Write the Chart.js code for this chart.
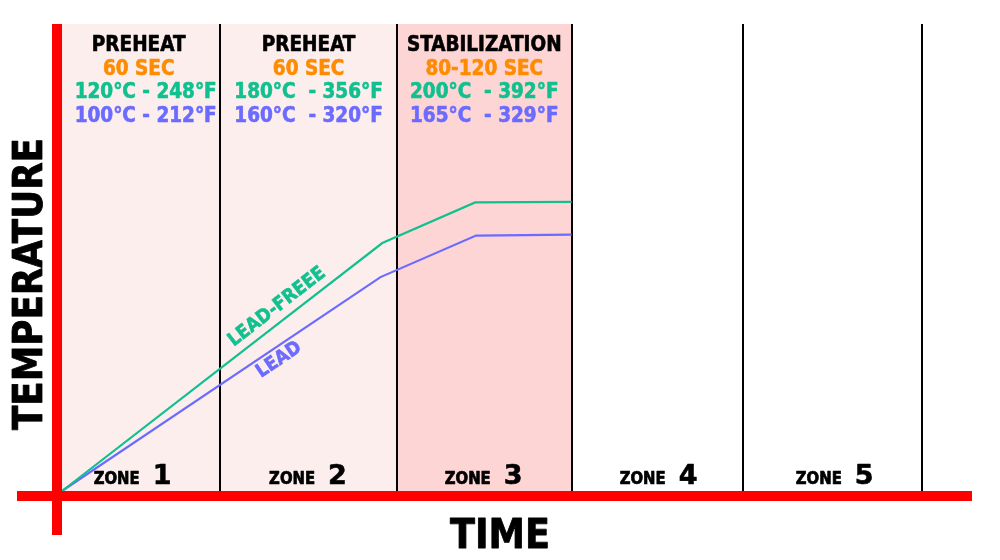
<!DOCTYPE html>
<html>
<head>
<meta charset="utf-8">
<script src="https://cdn.jsdelivr.net/npm/chart.js@4/dist/chart.umd.min.js"></script>
<style>
html,body{margin:0;padding:0;background:#fff;}
#wrap{width:1000px;height:560px;}
</style>
</head>
<body>
<div id="wrap"><canvas id="c" width="1000" height="560"></canvas></div>
<script>
// ---- data ----
const zoneBreaks = [0, 17.4, 36.8, 56.0, 74.8, 94.5];
const zoneNumbers = ['1', '2', '3', '4', '5'];
const zoneTitles = ['PREHEAT', 'PREHEAT', 'STABILIZATION'];
const zoneDurations = ['60 SEC', '60 SEC', '80-120 SEC'];
const leadFreeTemps = ['120°C - 248°F', '180°C  - 356°F', '200°C  - 392°F'];
const leadTemps = ['100°C - 212°F', '160°C  - 320°F', '165°C  - 329°F'];
const leadFreeX = [0, 35.2, 45.4, 56.0];
const leadFreeY = [0, 53.1, 61.8, 61.9];
const leadX = [0, 35.0, 45.5, 56.0];
const leadY = [0, 45.8, 54.7, 54.9];
const seriesNames = ['LEAD-FREEE', 'LEAD'];
const axisTitles = ['TIME', 'TEMPERATURE'];

// ---- styles ----
const GREEN = '#12c08f', PURPLE = '#6b6bff', ORANGE = '#ff8c00', RED = '#ff0000';
const zoneFills = ['#fdeeee', '#fdeeee', '#fed5d5', '#ffffff', '#ffffff'];
const COND = '"DejaVu Sans Condensed", "DejaVu Sans", sans-serif';
const SANS = '"DejaVu Sans", Verdana, sans-serif';

function fitText(ctx, text, x, y, font, color, width, align, heavy) {
  ctx.save();
  ctx.font = font;
  ctx.fillStyle = color;
  ctx.strokeStyle = color;
  ctx.textAlign = align || 'center';
  ctx.textBaseline = 'alphabetic';
  const w = ctx.measureText(text).width;
  ctx.translate(x, y);
  if (width) ctx.scale(width / w, 1);
  ctx.fillText(text, 0, 0);
  if (heavy) { ctx.lineWidth = heavy; ctx.lineJoin = 'round'; ctx.strokeText(text, 0, 0); }
  ctx.restore();
}

const pts = (xs, ys) => xs.map((x, i) => ({x, y: ys[i]}));

const decor = {
  id: 'decor',
  beforeDatasetsDraw(chart) {
    const {ctx, chartArea: a, scales: {x}} = chart;
    ctx.save();
    for (let i = 0; i < zoneFills.length; i++) {
      const x0 = x.getPixelForValue(zoneBreaks[i]);
      const x1 = x.getPixelForValue(zoneBreaks[i + 1]);
      ctx.fillStyle = zoneFills[i];
      ctx.fillRect(x0, a.top, x1 - x0, a.bottom - a.top);
    }
    ctx.strokeStyle = '#000';
    ctx.lineWidth = 2;
    for (let i = 1; i < zoneBreaks.length; i++) {
      const px = Math.round(x.getPixelForValue(zoneBreaks[i]));
      ctx.beginPath();
      ctx.moveTo(px, a.top);
      ctx.lineTo(px, a.bottom);
      ctx.stroke();
    }
    // header texts
    for (let i = 0; i < zoneTitles.length; i++) {
      let cx = (x.getPixelForValue(zoneBreaks[i]) + x.getPixelForValue(zoneBreaks[i + 1])) / 2;
      if (i === 0) cx -= 2.5;
      const off = i === 0 ? 7 : 0;
      fitText(ctx, zoneTitles[i], cx, a.top + 26.5, 'bold 20.5px ' + COND, '#000', null, 'center', 0.6);
      fitText(ctx, zoneDurations[i], cx, a.top + 50.5, 'bold 20.5px ' + COND, ORANGE, null, 'center', 0.6);
      fitText(ctx, leadFreeTemps[i], cx + off, a.top + 74, 'bold 20.5px ' + COND, GREEN, null, 'center', 0.6);
      fitText(ctx, leadTemps[i], cx + off, a.top + 98, 'bold 20.5px ' + COND, PURPLE, null, 'center', 0.6);
    }
    // zone labels
    for (let i = 0; i < zoneNumbers.length; i++) {
      const cx = (x.getPixelForValue(zoneBreaks[i]) + x.getPixelForValue(zoneBreaks[i + 1])) / 2 + [-8, 0, 0, 2, 3][i];
      const sx = cx - 39.5;
      fitText(ctx, 'ZONE', sx, a.bottom - 7.5, 'bold 18px ' + COND, '#000', 46, 'left', 0.7);
      fitText(ctx, zoneNumbers[i], sx + 59, a.bottom - 7.5, 'bold 27px ' + SANS, '#000', null, 'left', 0.6);
    }
    ctx.restore();
  },
  afterDatasetsDraw(chart) {
    const {ctx, chartArea: a, scales: {x, y}} = chart;
    ctx.save();
    // series labels along lines
    const lbl = [
      {t: seriesNames[0], c: GREEN, xs: leadFreeX, ys: leadFreeY, px: 277, py: 307},
      {t: seriesNames[1], c: PURPLE, xs: leadX, ys: leadY, px: 279, py: 360}
    ];
    lbl.forEach(l => {
      const x0 = x.getPixelForValue(l.xs[0]), y0 = y.getPixelForValue(l.ys[0]);
      const x1 = x.getPixelForValue(l.xs[1]), y1 = y.getPixelForValue(l.ys[1]);
      const ang = Math.atan2(y1 - y0, x1 - x0);
      ctx.save();
      ctx.translate(l.px, l.py);
      ctx.rotate(ang);
      ctx.font = 'bold 19px ' + COND;
      ctx.fillStyle = l.c;
      ctx.strokeStyle = l.c;
      ctx.lineWidth = 0.6;
      ctx.textAlign = 'center';
      ctx.textBaseline = 'middle';
      ctx.fillText(l.t, 0, 0);
      ctx.strokeText(l.t, 0, 0);
      ctx.restore();
    });
    // red axes
    ctx.fillStyle = RED;
    ctx.fillRect(a.left - 10, a.top, 10, 535 - a.top);
    ctx.fillRect(17, a.bottom, a.right - 17, 10);
    // axis titles
    fitText(ctx, axisTitles[0], 500, 548, 'bold 41px ' + COND, '#000', 100, 'center', 0.8);
    ctx.save();
    ctx.translate(42, 284);
    ctx.rotate(-Math.PI / 2);
    fitText(ctx, axisTitles[1], 0, 0, 'bold 41px ' + COND, '#000', 292, 'center', 0.8);
    ctx.restore();
    ctx.restore();
  }
};

new Chart(document.getElementById('c'), {
  type: 'line',
  data: {
    datasets: [
      {label: seriesNames[0], data: pts(leadFreeX, leadFreeY), borderColor: GREEN, borderWidth: 2.2, pointRadius: 0, tension: 0, clip: false},
      {label: seriesNames[1], data: pts(leadX, leadY), borderColor: PURPLE, borderWidth: 2.2, pointRadius: 0, tension: 0, clip: false}
    ]
  },
  options: {
    responsive: false,
    animation: false,
    devicePixelRatio: 1,
    layout: {padding: {left: 62, right: 28, top: 24, bottom: 69}},
    plugins: {legend: {display: false}, tooltip: {enabled: false}},
    scales: {
      x: {type: 'linear', min: 0, max: 100, display: false},
      y: {type: 'linear', min: 0, max: 100, display: false}
    }
  },
  plugins: [decor]
});
</script>
</body>
</html>
